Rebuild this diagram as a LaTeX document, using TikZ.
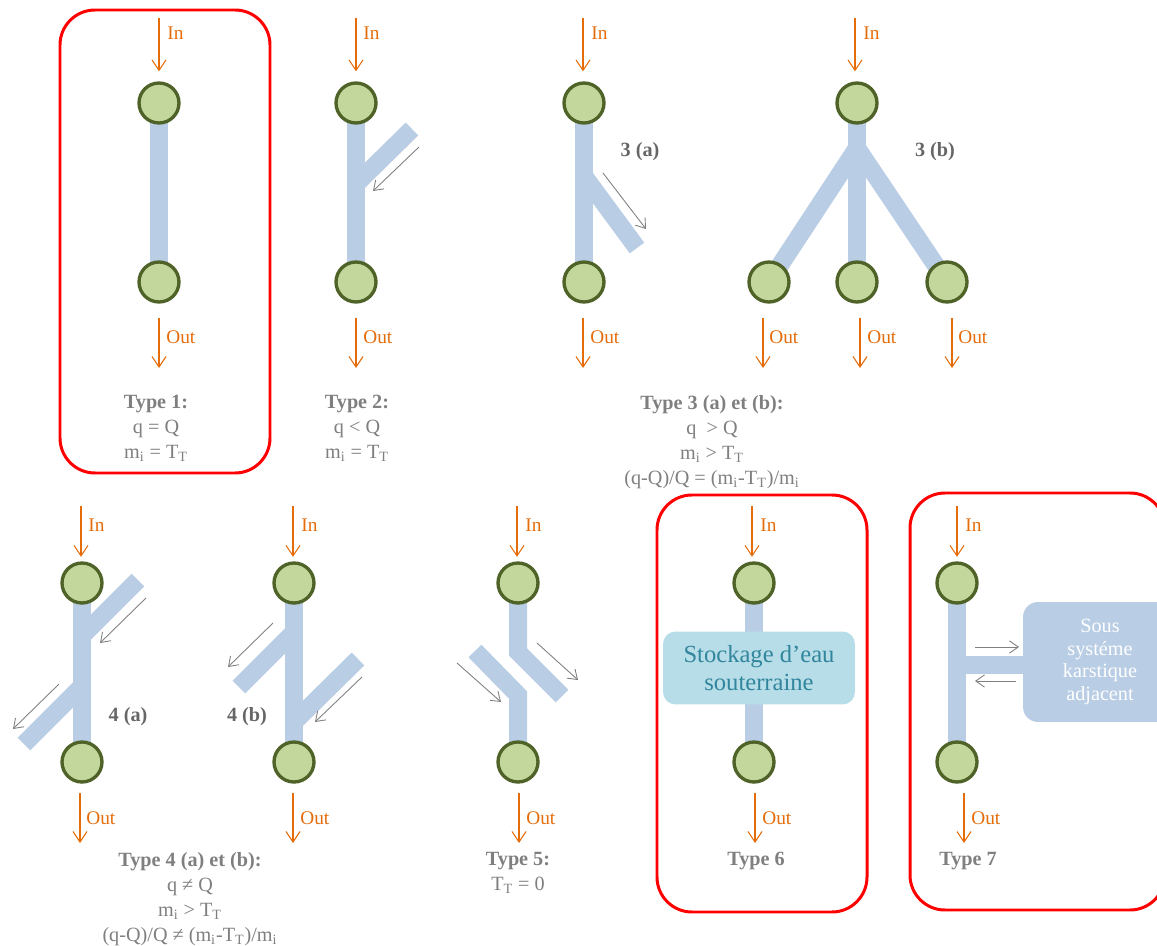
\documentclass[tikz,border=0pt]{standalone}
\usepackage{fontspec}
\setmainfont{Liberation Serif}
\usetikzlibrary{arrows.meta,backgrounds}
\definecolor{pipeBlue}{HTML}{B9CDE5}
\definecolor{nodeGreen}{HTML}{C3D69B}
\definecolor{nodeEdge}{HTML}{4F6228}
\definecolor{flowOrange}{HTML}{E46C0A}
\definecolor{flowGrey}{HTML}{808080}
\definecolor{textGrey}{HTML}{7F7F7F}
\definecolor{labelGrey}{HTML}{666666}
\definecolor{storeFill}{HTML}{B7DEE8}
\definecolor{storeText}{HTML}{31859C}
\begin{document}
\begin{tikzpicture}[x=0.02cm,y=-0.02cm,
    karstNode/.style={circle,draw=nodeEdge,fill=nodeGreen,line width=1.9pt,minimum size=0.8cm,inner sep=0pt},
    karstPipe/.style={draw=pipeBlue,line width=0.36cm},
    karstIO/.style={draw=flowOrange,line width=0.6pt,-{Straight Barb[length=6pt,width=8pt]}},
    karstFlow/.style={draw=flowGrey,line width=0.5pt,-{Straight Barb[length=5pt,width=7pt]}},
    karstFrame/.style={draw=red,line width=1.7pt,rounded corners=0.7cm},
    karstIOLbl/.style={text=flowOrange,font=\fontsize{11}{13}\selectfont,anchor=west,inner sep=0pt},
    karstCase/.style={text=labelGrey,font=\bfseries\fontsize{11.5}{14}\selectfont,inner sep=0pt},
    karstTxt/.style={text=textGrey,font=\fontsize{11.5}{14.2}\selectfont,align=center,anchor=north,inner sep=0pt},
    karstStore/.style={rectangle,rounded corners=0.25cm,fill=storeFill,text=storeText,minimum width=3.84cm,minimum height=1.46cm,align=center,font=\fontsize{14}{16}\selectfont},
    karstSub/.style={rectangle,rounded corners=0.3cm,fill=pipeBlue,text=white,minimum width=3.08cm,minimum height=2.4cm,align=center,font=\fontsize{11.5}{13}\selectfont},
]
\useasboundingbox (0,0) rectangle (1157,946);
% frames
\draw[karstFrame] (60,10) rectangle (270,473);
\draw[karstFrame] (657,495) rectangle (867,912);
\draw[karstFrame] (910,493) rectangle (1165,910);
% circles
\node[karstNode] (n1t) at (159,103) {};
\node[karstNode] (n1b) at (159,282) {};
\node[karstNode] (n2t) at (356,103) {};
\node[karstNode] (n2b) at (356,282) {};
\node[karstNode] (n3at) at (584,103) {};
\node[karstNode] (n3ab) at (584,282) {};
\node[karstNode] (n3bt) at (857,103) {};
\node[karstNode] (n3bl) at (769,282) {};
\node[karstNode] (n3bm) at (857,282) {};
\node[karstNode] (n3br) at (947,282) {};
\node[karstNode] (n4at) at (82,583) {};
\node[karstNode] (n4ab) at (82,762) {};
\node[karstNode] (n4bt) at (294,583) {};
\node[karstNode] (n4bb) at (294,762) {};
\node[karstNode] (n5t) at (518,583) {};
\node[karstNode] (n5b) at (518,762) {};
\node[karstNode] (n6t) at (754,583) {};
\node[karstNode] (n6b) at (754,762) {};
\node[karstNode] (n7t) at (957,583) {};
\node[karstNode] (n7b) at (957,762) {};
\node[karstStore] (s6) at (759,668) {Stockage d’eau\\souterraine};
\node[karstSub] (k7) at (1100,662) {Sous\\systéme\\karstique\\adjacent};
% branch points
\coordinate (j2) at (356,184); \coordinate (e2) at (412,129);
\coordinate (j3a) at (584,176); \coordinate (e3a) at (637,248);
\coordinate (j3b) at (857,148);
\coordinate (j4a1) at (82,636); \coordinate (e4a1) at (138,580);
\coordinate (j4a2) at (82,686); \coordinate (e4a2) at (24,744);
\coordinate (j4b1) at (294,632); \coordinate (e4b1) at (239,687);
\coordinate (j4b2) at (294,722); \coordinate (e4b2) at (358,659);
\coordinate (k5a) at (518,652); \coordinate (k5b) at (562,696);
\coordinate (k5c) at (475,651); \coordinate (k5d) at (518,695);
\coordinate (j7) at (957,665);
\begin{scope}[on background layer]
\draw[karstPipe] (n1t.center) -- (n1b.center);
\draw[karstPipe] (n2t.center) -- (n2b.center);
\draw[karstPipe] (j2) -- (e2);
\draw[karstPipe] (n3at.center) -- (n3ab.center);
\draw[karstPipe] (j3a) -- (e3a);
\draw[karstPipe] (n3bt.center) -- (n3bm.center);
\draw[karstPipe] (j3b) -- (n3bl.center);
\draw[karstPipe] (j3b) -- (n3br.center);
\draw[karstPipe] (n4at.center) -- (n4ab.center);
\draw[karstPipe] (j4a1) -- (e4a1);
\draw[karstPipe] (j4a2) -- (e4a2);
\draw[karstPipe] (n4bt.center) -- (n4bb.center);
\draw[karstPipe] (j4b1) -- (e4b1);
\draw[karstPipe] (j4b2) -- (e4b2);
\draw[karstPipe] (n5t.center) -- (k5a) -- (k5b);
\draw[karstPipe] (k5c) -- (k5d) -- (n5b.center);
\draw[karstPipe] (n6t.center) -- (n6b.center);
\draw[karstPipe] (n7t.center) -- (n7b.center);
\draw[karstPipe] (j7) -- (j7 -| k7.west);
\end{scope}
% exchange arrows
\coordinate (f2a) at (419,147); \coordinate (f2b) at (373,191);
\coordinate (f3a) at (603,173); \coordinate (f3b) at (646,229);
\coordinate (f4a) at (146,598); \coordinate (f4b) at (100,643);
\coordinate (f4c) at (59,684); \coordinate (f4d) at (13,729);
\coordinate (f4e) at (273,623); \coordinate (f4f) at (228,667);
\coordinate (f4g) at (362,677); \coordinate (f4h) at (315,722);
\coordinate (f5a) at (537,643); \coordinate (f5b) at (578,680);
\coordinate (f5c) at (457,663); \coordinate (f5d) at (501,702);
\coordinate (f7a) at (975,647); \coordinate (f7b) at (1019,647);
\coordinate (f7c) at (1016,681); \coordinate (f7d) at (975,681);
\draw[karstFlow] (f2a) -- (f2b);
\draw[karstFlow] (f3a) -- (f3b);
\draw[karstFlow] (f4a) -- (f4b);
\draw[karstFlow] (f4c) -- (f4d);
\draw[karstFlow] (f4e) -- (f4f);
\draw[karstFlow] (f4g) -- (f4h);
\draw[karstFlow] (f5a) -- (f5b);
\draw[karstFlow] (f5c) -- (f5d);
\draw[karstFlow] (f7a) -- (f7b);
\draw[karstFlow] (f7c) -- (f7d);
% in / out
\coordinate (i1) at (159,18); \coordinate (i2) at (356,18);
\coordinate (i3a) at (583,18); \coordinate (i3b) at (855,18);
\coordinate (o1) at (159,368); \coordinate (o2) at (356,368);
\coordinate (o3a) at (583,368); \coordinate (o3l) at (763,368);
\coordinate (o3m) at (860,368); \coordinate (o3r) at (952,368);
\draw[karstIO,shorten >=0.2cm] (i1) -- (i1 |- n1t.north);
\draw[karstIO,shorten >=0.2cm] (i2) -- (i2 |- n2t.north);
\draw[karstIO,shorten >=0.2cm] (i3a) -- (i3a |- n3at.north);
\draw[karstIO,shorten >=0.2cm] (i3b) -- (i3b |- n3bt.north);
\draw[karstIO,shorten <=0.29cm] (o1 |- n1b.south) -- (o1);
\draw[karstIO,shorten <=0.29cm] (o2 |- n2b.south) -- (o2);
\draw[karstIO,shorten <=0.29cm] (o3a |- n3ab.south) -- (o3a);
\draw[karstIO,shorten <=0.29cm] (o3l |- n3bl.south) -- (o3l);
\draw[karstIO,shorten <=0.29cm] (o3m |- n3bm.south) -- (o3m);
\draw[karstIO,shorten <=0.29cm] (o3r |- n3br.south) -- (o3r);
\coordinate (i4a) at (81,506); \coordinate (i4b) at (293,506);
\coordinate (i5) at (517,506); \coordinate (i6) at (752,506);
\coordinate (i7) at (957,506);
\coordinate (o4a) at (80,843); \coordinate (o4b) at (293,843);
\coordinate (o5) at (519,843); \coordinate (o6) at (755,843);
\coordinate (o7) at (964,843);
\draw[karstIO,shorten >=0.09cm] (i4a) -- (i4a |- n4at.north);
\draw[karstIO,shorten >=0.09cm] (i4b) -- (i4b |- n4bt.north);
\draw[karstIO,shorten >=0.09cm] (i5) -- (i5 |- n5t.north);
\draw[karstIO,shorten >=0.09cm] (i6) -- (i6 |- n6t.north);
\draw[karstIO,shorten >=0.09cm] (i7) -- (i7 |- n7t.north);
\draw[karstIO,shorten <=0.19cm] (o4a |- n4ab.south) -- (o4a);
\draw[karstIO,shorten <=0.19cm] (o4b |- n4bb.south) -- (o4b);
\draw[karstIO,shorten <=0.19cm] (o5 |- n5b.south) -- (o5);
\draw[karstIO,shorten <=0.19cm] (o6 |- n6b.south) -- (o6);
\draw[karstIO,shorten <=0.19cm] (o7 |- n7b.south) -- (o7);
\node[karstIOLbl] (li1) at (167,33) {In};
\node[karstIOLbl] (li2) at (363,33) {In};
\node[karstIOLbl] (li3a) at (591,33) {In};
\node[karstIOLbl] (li3b) at (863,33) {In};
\node[karstIOLbl] (lo1) at (166,337) {Out};
\node[karstIOLbl] (lo2) at (363,337) {Out};
\node[karstIOLbl] (lo3a) at (590,337) {Out};
\node[karstIOLbl] (lo3l) at (769,337) {Out};
\node[karstIOLbl] (lo3m) at (867,337) {Out};
\node[karstIOLbl] (lo3r) at (958,337) {Out};
\node[karstIOLbl] (li4a) at (88,525) {In};
\node[karstIOLbl] (li4b) at (301,525) {In};
\node[karstIOLbl] (li5) at (525,525) {In};
\node[karstIOLbl] (li6) at (760,525) {In};
\node[karstIOLbl] (li7) at (965,525) {In};
\node[karstIOLbl] (lo4a) at (86,818) {Out};
\node[karstIOLbl] (lo4b) at (300,818) {Out};
\node[karstIOLbl] (lo5) at (526,818) {Out};
\node[karstIOLbl] (lo6) at (762,818) {Out};
\node[karstIOLbl] (lo7) at (971,818) {Out};
% case labels
\node[karstCase] (c3a) at (640,152) {3 (a)};
\node[karstCase] (c3b) at (935,152) {3 (b)};
\node[karstCase] (c4a) at (128,717) {4 (a)};
\node[karstCase] (c4b) at (247,717) {4 (b)};
% conditions
\node[karstTxt] (t1) at (156,395) {\textbf{Type 1:}\\q = Q\\m\textsubscript{i} = T\textsubscript{T}};
\node[karstTxt] (t2) at (357,395) {\textbf{Type 2:}\\q < Q\\m\textsubscript{i} = T\textsubscript{T}};
\node[karstTxt] (t3) at (712,395) {\textbf{Type 3 (a) et (b):}\\q \ > Q\\m\textsubscript{i} > T\textsubscript{T}\\(q-Q)/Q = (m\textsubscript{i}-T\textsubscript{T})/m\textsubscript{i}};
\node[karstTxt] (t4) at (190,852) {\textbf{Type 4 (a) et (b):}\\q ≠ Q\\m\textsubscript{i} > T\textsubscript{T}\\(q-Q)/Q ≠ (m\textsubscript{i}-T\textsubscript{T})/m\textsubscript{i}};
\node[karstTxt] (t5) at (518,852) {\textbf{Type 5:}\\T\textsubscript{T} = 0};
\node[karstTxt] (t6) at (756,852) {\textbf{Type 6}};
\node[karstTxt] (t7) at (968,852) {\textbf{Type 7}};
\end{tikzpicture}
\end{document}
